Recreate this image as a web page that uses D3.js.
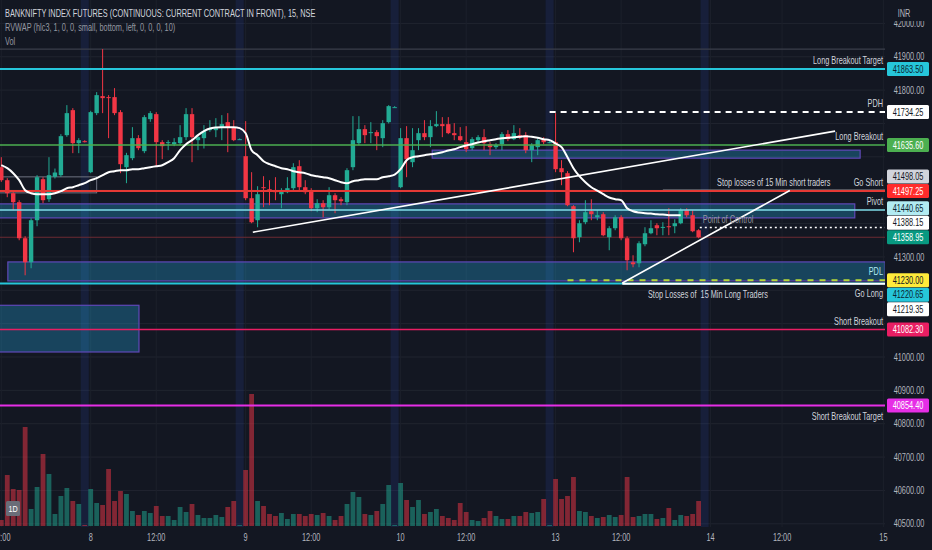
<!DOCTYPE html>
<html><head><meta charset="utf-8">
<script src="https://cdn.jsdelivr.net/npm/d3@7/dist/d3.min.js"></script>
<style>body{margin:0;background:#131722;overflow:hidden}svg{display:block}</style>
</head><body>
<svg id="c" width="932" height="550"></svg>
<script>
// ---------- DATA ----------
const firstBar = -15; // 12:00 bar of the 7th; index 0 = 09:15 of the 8th
const openP = [41569,41530,41491,41464,41356,41284,41410,41533,41473,41540,41545,41665,41740,41641,41647,
 41554,41731,41782,41779,41779,41734,41569,41596,41656,41617,41713,41728,41644,41641,41638,41641,41659,41728,41650,41656,41680,41680,41689,41704,41689,41653,
 41602,41476,41410,41509,41503,41497,41488,41494,41506,41572,41509,41500,41446,41461,41449,41485,41473,41464,41569,41641,41683,41671,41674,41656,41704,41749,
 41509,41656,41584,41650,41671,41659,41692,41698,41698,41671,41662,41644,41626,41650,41659,41638,41629,41638,41668,41653,41665,41665,41620,41629,41653,41644,
 41644,41566,41551,41452,41359,41404,41437,41419,41428,41359,41386,41419,41356,41284,41281,41338,41371,41395,41387,41392,41392,41401,41440,41425,41380];
const highP = [41599,41536,41494,41470,41362,41416,41545,41539,41599,41565,41668,41755,41746,41656,41650,
 41738,41794,41923,41785,41806,41740,41612,41689,41665,41725,41737,41734,41650,41650,41656,41695,41746,41746,41665,41695,41710,41716,41725,41731,41710,41655,
 41707,41554,41512,41542,41530,41539,41506,41539,41581,41590,41530,41506,41473,41470,41509,41491,41479,41566,41722,41722,41695,41704,41680,41710,41755,41752,
 41686,41692,41686,41686,41710,41710,41737,41719,41719,41701,41689,41692,41659,41665,41683,41644,41641,41674,41680,41695,41686,41674,41641,41656,41659,41647,
 41731,41590,41557,41455,41410,41470,41473,41440,41434,41392,41425,41425,41362,41305,41347,41389,41410,41401,41404,41446,41413,41446,41446,41440,41383];
const lowP = [41525,41479,41440,41350,41245,41266,41392,41461,41465,41535,41540,41660,41611,41611,41643,
 41551,41725,41731,41656,41725,41551,41521,41590,41620,41611,41705,41572,41593,41620,41632,41635,41650,41584,41620,41625,41675,41659,41650,41614,41647,41651,
 41470,41401,41389,41449,41455,41470,41446,41491,41500,41500,41488,41437,41434,41419,41443,41431,41455,41455,41560,41635,41641,41641,41620,41629,41700,41748,
 41506,41539,41569,41620,41650,41629,41689,41659,41668,41650,41647,41614,41620,41644,41620,41605,41623,41620,41647,41650,41653,41611,41584,41605,41638,41641,
 41554,41515,41452,41314,41344,41398,41410,41410,41362,41320,41380,41350,41260,41269,41269,41332,41368,41365,41365,41365,41371,41398,41419,41374,41356];
const closeP = [41530,41491,41464,41356,41284,41410,41539,41470,41545,41553,41662,41731,41641,41650,41645,
 41734,41785,41776,41776,41731,41578,41605,41656,41626,41719,41731,41644,41632,41644,41644,41659,41728,41659,41659,41677,41686,41686,41698,41689,41650,41653,
 41476,41404,41488,41506,41497,41494,41500,41506,41569,41509,41494,41446,41461,41449,41485,41470,41467,41560,41650,41683,41665,41674,41662,41701,41752,41749,
 41656,41593,41620,41671,41659,41692,41698,41692,41671,41665,41650,41623,41653,41659,41641,41629,41635,41668,41653,41671,41659,41620,41635,41650,41644,41644,
 41563,41554,41455,41356,41401,41434,41428,41425,41365,41386,41419,41356,41290,41278,41341,41371,41386,41386,41390,41389,41401,41440,41425,41377,41358.95];
const volume = [6,51,37,36,99,17,39,72,52,12,30,38,25,22,1,
 37,23,21,57,25,35,32,15,11,15,13,20,10,10,6,19,14,22,11,8,8,11,9,19,25,1,
 56,132,25,20,12,10,13,7,12,12,10,12,11,13,10,6,10,22,34,29,12,11,15,22,41,1,
 43,26,19,26,12,14,17,10,8,6,23,14,6,5,8,15,10,7,7,10,10,14,13,14,27,1,
 47,27,30,49,15,14,10,8,9,11,9,11,49,9,10,12,12,7,8,18,6,11,10,12,25];
const rvwap = [41575,41566,41551,41530,41500,41491,41488,41488,41488,41491,41497,41506,41509,41515,41521,
 41530,41536,41545,41554,41557,41560,41560,41563,41563,41566,41569,41572,41575,41584,41596,41620,41638,41650,41665,41677,41685,41688,41689,41689,41689,41686,
 41671,41620,41605,41587,41578,41572,41566,41563,41557,41554,41551,41545,41542,41539,41536,41530,41524,41521,41527,41530,41533,41533,41533,41539,41542,41547,
 41563,41590,41599,41602,41605,41608,41610,41614,41619,41623,41629,41634,41638,41643,41647,41650,41653,41656,41657,41659,41660,41662,41660,41657,41653,41650,
 41640,41629,41599,41566,41542,41524,41509,41499,41488,41478,41473,41470,41446,41437,41433,41431,41430,41428,41427,41425,41425,41425];

const timeTickIdx = [-15,0,11,26,37,52,63,78,89,104,116,133];
const timeTickLabels = ["12:00","8","12:00","9","12:00","10","12:00","13","12:00","14","12:00","15"];
const sessionBreakIdx = [-1,25,51,77,103];
const priceTicks = [40500,40600,40700,40800,40900,41000,41100,41200,41300,41400,41500,41600,41700,41800,41900,42000];

const levelNames = ["Long Breakout Target","PDH","Long Breakout","Stop losses of 15 Min short traders","Go Short","Pivot","Point of Control","PDL","Go Long","Stop Losses of  15 Min Long Traders","Short Breakout","Short Breakout Target"];
const levelPrices = [41863.50,41734.25,41635.60,41498.05,41497.25,41440.65,41388.15,41230.00,41220.65,41219.35,41082.30,40854.40];
const levelStartIdx = [null,77,null,96,null,null,102.2,80,null,89.2,null,null];

const zoneTop = [41620,41459,41285,41155];
const zoneBottom = [41596,41417,41228,41015];
const zoneFromIdx = [57.3,-20,-13.9,-20];
const zoneToIdx = [129.1,128.2,133.3,8.1];
const boxTop = [41540], boxBottom = [41492], boxFromIdx = [-20], boxToIdx = [1];
const dayHighLine = [41923];

const trendFromIdx = [27.2,89.2], trendFromPrice = [41374,41222];
const trendToIdx = [124.9,117.3], trendToPrice = [41677,41499];

const pinnedTags = [41497.25, 41358.95, 41230.00];

// ---------- STYLE ----------
const levelStyle = {
 "Long Breakout Target":{c:"#26c6da",w:2,bg:"#26c6da",fg:"#0b2530",la:"right",lp:"above"},
 "PDH":{c:"#ffffff",w:2,dash:"6,5",bg:"#ffffff",fg:"#131722",la:"right",lp:"above"},
 "Long Breakout":{c:"#4caf50",w:1.5,bg:"#4caf50",fg:"#ffffff",la:"right",lp:"above"},
 "Stop losses of 15 Min short traders":{c:"#ffffff",w:2,bg:"#d1d4dc",fg:"#131722",la:"center",lx:114.6,lp:"above"},
 "Go Short":{c:"#e53935",w:2,bg:"#ff2b2b",fg:"#ffffff",la:"right",lp:"above"},
 "Pivot":{c:"#80deea",w:1.5,bg:"#b2ebf2",fg:"#0b2530",la:"right",lp:"above"},
 "Point of Control":{c:"#ffffff",w:1.5,dash:"2,3",bg:"#ffffff",fg:"#131722",la:"left",lx:102.7,lp:"above",tc:"#9598a1"},
 "PDL":{c:"#b6d93a",w:2,dash:"6,6",bg:"#ffeb3b",fg:"#131722",la:"right",lp:"above",tc:"#b2ebf2"},
 "Go Long":{c:"#26c6da",w:2,bg:"#26c6da",fg:"#0b2530",la:"right",lp:"below"},
 "Stop Losses of  15 Min Long Traders":{c:"#ffffff",w:2,bg:"#ffffff",fg:"#131722",la:"left",lx:93.5,lp:"below"},
 "Short Breakout":{c:"#e91e63",w:1.5,bg:"#e91e63",fg:"#ffffff",la:"right",lp:"above"},
 "Short Breakout Target":{c:"#e62ee6",w:2,bg:"#e62ee6",fg:"#ffffff",la:"right",lp:"below"}
};
const UP="#22ab94", DN="#f23645";
const FS=10.2, SX=0.72, FONT="'Liberation Sans', Arial, sans-serif";

// ---------- SCALES ----------
const W=932,H=550,PR=885,PB=527;
const x = d3.scaleLinear().domain([0,100]).range([90.7,686.7]);
const y = d3.scaleLinear().domain([41000,42000]).range([357,23.4]);
const vy = d3.scaleLinear().domain([0,d3.max(volume)]).range([526,394]);

const bars = openP.map((o,k)=>({i:firstBar+k,o,h:highP[k],l:lowP[k],c:closeP[k],v:volume[k]}));

const svg = d3.select("#c").attr("font-family",FONT);
svg.append("rect").attr("width",W).attr("height",H).attr("fill","#131722");
const defs = svg.append("defs");
defs.append("clipPath").attr("id","plot").append("rect").attr("x",0).attr("y",0).attr("width",PR).attr("height",PB);
defs.append("clipPath").attr("id","axisclip").append("rect").attr("x",PR).attr("y",21).attr("width",W-PR).attr("height",PB-21);

function T(sel,xx,yy,s,o){o=o||{};
 return sel.append("text").attr("transform",`translate(${xx},${yy}) scale(${o.sx||SX},1)`)
  .attr("text-anchor",o.anchor||"start").attr("font-size",o.size||FS).attr("fill",o.fill||"#d1d4dc")
  .attr("font-weight",o.weight||"normal").style("white-space","pre").text(s);}

const gp = svg.append("g").attr("clip-path","url(#plot)");
// grid
gp.selectAll(".hg").data(priceTicks).join("line").attr("x1",0).attr("x2",PR).attr("y1",d=>y(d)).attr("y2",d=>y(d)).attr("stroke","#20242f").attr("stroke-width",1);
gp.selectAll(".vg").data(timeTickIdx).join("line").attr("x1",d=>x(d)).attr("x2",d=>x(d)).attr("y1",0).attr("y2",PB).attr("stroke","#1c202b").attr("stroke-width",1);
// session breaks
gp.selectAll(".sb").data(sessionBreakIdx).join("rect").attr("x",d=>x(d)-4).attr("width",8).attr("y",0).attr("height",PB).attr("fill","rgba(45,80,200,0.15)");
// volume
gp.selectAll(".vol").data(bars).join("rect").attr("x",d=>x(d.i)-2.4).attr("width",4.8)
 .attr("y",d=>vy(d.v)).attr("height",d=>vy(0)-vy(d.v))
 .attr("fill",d=>d.c>=d.o?"rgba(34,171,148,0.5)":"rgba(242,54,69,0.5)");
// zones
zoneTop.forEach((t,k)=>{
 gp.append("rect").attr("x",x(zoneFromIdx[k])).attr("width",x(zoneToIdx[k])-x(zoneFromIdx[k]))
  .attr("y",y(t)).attr("height",y(zoneBottom[k])-y(t))
  .attr("fill","rgba(38,166,217,0.32)").attr("stroke","#5f48b8").attr("stroke-width",1.2);
});
boxTop.forEach((t,k)=>{
 gp.append("rect").attr("x",x(boxFromIdx[k])).attr("width",x(boxToIdx[k])-x(boxFromIdx[k]))
  .attr("y",y(t)).attr("height",y(boxBottom[k])-y(t)).attr("fill","none").attr("stroke","#6f7380").attr("stroke-width",1);
});
dayHighLine.forEach(p=>gp.append("line").attr("x1",0).attr("x2",PR).attr("y1",y(p)).attr("y2",y(p)).attr("stroke","#3b3f4b").attr("stroke-width",1.2));
// last price line
const lastClose = closeP[closeP.length-1];
gp.append("line").attr("x1",0).attr("x2",PR).attr("y1",y(lastClose)).attr("y2",y(lastClose)).attr("stroke","#6e2b33").attr("stroke-width",1);

// candles
const cg = gp.append("g");
cg.selectAll(".wk").data(bars).join("line").attr("x1",d=>x(d.i)).attr("x2",d=>x(d.i))
 .attr("y1",d=>y(d.h)).attr("y2",d=>y(d.l)).attr("stroke",d=>d.c>=d.o?UP:DN).attr("stroke-width",1);
cg.selectAll(".bd").data(bars).join("rect").attr("x",d=>x(d.i)-2.2).attr("width",4.4)
 .attr("y",d=>y(Math.max(d.o,d.c))).attr("height",d=>Math.max(1,Math.abs(y(d.o)-y(d.c))))
 .attr("fill",d=>d.c>=d.o?UP:DN);

// levels
levelNames.forEach((n,k)=>{
 const s=levelStyle[n], p=levelPrices[k], x0=levelStartIdx[k]==null?0:x(levelStartIdx[k]);
 gp.append("line").attr("x1",x0).attr("x2",PR).attr("y1",y(p)).attr("y2",y(p))
  .attr("stroke",s.c).attr("stroke-width",s.w).attr("stroke-dasharray",s.dash||null);
});
// trend lines
trendFromIdx.forEach((f,k)=>{
 gp.append("line").attr("x1",x(f)).attr("y1",y(trendFromPrice[k])).attr("x2",x(trendToIdx[k])).attr("y2",y(trendToPrice[k]))
  .attr("stroke","#ffffff").attr("stroke-width",1.6);
});
// RVWAP
gp.append("path").datum(rvwap).attr("fill","none").attr("stroke","#ffffff").attr("stroke-width",2)
 .attr("d",d3.line().x((d,k)=>x(firstBar+k)).y(d=>y(d)).curve(d3.curveMonotoneX));

// level labels (unclipped)
const gl = svg.append("g");
levelNames.forEach((n,k)=>{
 const s=levelStyle[n], yy=y(levelPrices[k]);
 let xx, anchor;
 if(s.la==="right"){xx=883;anchor="end";} else if(s.la==="center"){xx=x(s.lx);anchor="middle";} else {xx=x(s.lx);anchor="start";}
 const by = s.lp==="above"? yy-5 : yy+14;
 T(gl,xx,by,n,{anchor,fill:s.tc||"#d1d4dc"});
});

// header
T(svg,5,17,"BANKNIFTY INDEX FUTURES (CONTINUOUS: CURRENT CONTRACT IN FRONT), 15, NSE",{fill:"#d1d4dc",size:10.4,sx:0.71});
T(svg,5,31,"RVWAP (hlc3, 1, 0, 0, small, bottom, left, 0, 0, 0, 10)",{fill:"#9598a1",size:10.4,sx:0.71});
T(svg,5,45,"Vol",{fill:"#9598a1",size:10.4,sx:0.71});

// 1D badge
svg.append("rect").attr("x",6).attr("y",501).attr("width",14).attr("height",15).attr("rx",1.5).attr("fill","#6a6d78");
T(svg,13,512,"1D",{anchor:"middle",fill:"#ffffff",size:9,sx:0.8});

// tags with collision relaxation
const tags = levelNames.map((n,k)=>({p:levelPrices[k],bg:levelStyle[n].bg,fg:levelStyle[n].fg}));
tags.push({p:lastClose,bg:"#089981",fg:"#ffffff"});
tags.forEach(t=>{t.y0=y(t.p);t.y=t.y0;t.pin=pinnedTags.includes(t.p);});
tags.sort((a,b)=>a.y0-b.y0);
const TH=14.5;
for(let it=0;it<300;it++){
 for(let k=0;k<tags.length-1;k++){
  const a=tags[k],b=tags[k+1],d=b.y-a.y;
  if(d<TH){const ov=TH-d;
   if(a.pin&&b.pin)continue;
   if(a.pin)b.y+=ov; else if(b.pin)a.y-=ov; else {a.y-=ov/2;b.y+=ov/2;}
  }
 }
}

// price axis (labels hidden where a tag sits)
const ga = svg.append("g").attr("clip-path","url(#axisclip)");
priceTicks.filter(p=>tags.every(t=>Math.abs(t.y-y(p))>12))
 .forEach(p=>T(ga,909,y(p)+3.6,d3.format(".2f")(p),{anchor:"middle",fill:"#b2b5be"}));
T(svg,904,16.5,"INR",{anchor:"middle",fill:"#b2b5be"});

tags.forEach(t=>{
 ga.append("rect").attr("x",887).attr("y",t.y-7).attr("width",42).attr("height",14).attr("rx",1.5).attr("fill",t.bg);
 T(ga,908,t.y+3.6,d3.format(".2f")(t.p),{anchor:"middle",fill:t.fg});
});

// time axis
timeTickIdx.forEach((idx,k)=>T(svg,x(idx),541,timeTickLabels[k],{anchor:"middle",fill:"#b2b5be"}));
</script>
</body></html>
